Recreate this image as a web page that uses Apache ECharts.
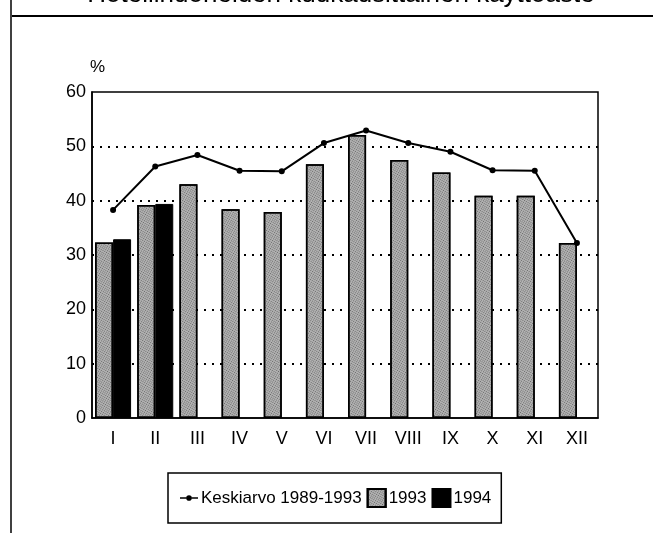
<!DOCTYPE html>
<html>
<head>
<meta charset="utf-8">
<script src="https://cdn.jsdelivr.net/npm/echarts@6/dist/echarts.min.js"></script>
<style>html,body{margin:0;padding:0;background:#fff}#c{width:653px;height:533px}</style>
</head>
<body>
<div id="c"></div>
<script>
var titleText = 'Hotellihuoneiden kuukausittainen käyttöaste';
var months = ['I','II','III','IV','V','VI','VII','VIII','IX','X','XI','XII'];
var avg8993 = [38.3, 46.3, 48.4, 45.5, 45.4, 50.6, 52.9, 50.6, 49.0, 45.6, 45.5, 32.2];
var y1993 = [32.3, 39.2, 43.0, 38.4, 37.9, 46.7, 52.1, 47.5, 45.2, 40.9, 40.9, 32.2];
var y1994 = [32.9, 39.4, null, null, null, null, null, null, null, null, null, null];
var yTicks = [0, 10, 20, 30, 40, 50, 60];
var seriesNames = ['Keskiarvo 1989-1993', '1993', '1994'];

var font = 'Liberation Sans, Arial, sans-serif';
var chart = echarts.init(document.getElementById('c'), null, {renderer: 'canvas'});
chart.setOption({
  animation: false,
  backgroundColor: '#fff',
  title: {
    text: titleText, left: 336, top: -23, textAlign: 'center',
    textStyle: {fontFamily: font, fontSize: 26, fontWeight: 'normal', color: '#000'}
  },
  graphic: [
    {type: 'line', shape: {x1: 11, y1: 0, x2: 11, y2: 533}, style: {stroke: '#000', lineWidth: 1.5}},
    {type: 'line', shape: {x1: 12, y1: 16, x2: 653, y2: 16}, style: {stroke: '#000', lineWidth: 2}}
  ],
  grid: {left: 92, right: 55, top: 92, bottom: 115, show: true, borderColor: '#000', borderWidth: 1.5, backgroundColor: 'transparent'},
  legend: {
    left: 168, top: 473,
    padding: [15, 10, 15, 12],
    borderColor: '#000', borderWidth: 1.5,
    itemWidth: 18, itemHeight: 18, itemGap: 5,
    textStyle: {fontFamily: font, fontSize: 17, color: '#000', padding: [0, 0, 0, -2]},
    data: [
      {name: seriesNames[0], icon: 'path://M0,2.5h5.5v1.5H0z M10.5,2.5h5.5v1.5h-5.5z M5.5,3.25a2.5,2.5 0 1,1 5,0a2.5,2.5 0 1,1 -5,0z'},
      {name: seriesNames[1], icon: 'rect'},
      {name: seriesNames[2], icon: 'rect'}
    ]
  },
  xAxis: {
    type: 'category', data: months,
    axisTick: {show: false},
    axisLine: {lineStyle: {color: '#000', width: 1.5}},
    axisLabel: {fontFamily: font, fontSize: 18, color: '#000', margin: 12},
    splitLine: {show: false}
  },
  yAxis: {
    type: 'value', min: yTicks[0], max: yTicks[yTicks.length - 1], interval: 10,
    name: '%', nameLocation: 'end', nameGap: 16,
    nameTextStyle: {fontFamily: font, fontSize: 17, color: '#000', align: 'left', padding: [0, 0, 0, -2]},
    axisLine: {show: true, lineStyle: {color: '#000', width: 1.5}},
    axisTick: {show: false},
    axisLabel: {fontFamily: font, fontSize: 18, color: '#000', margin: 6},
    splitLine: {show: true, showMinLine: false, showMaxLine: false, lineStyle: {color: '#000', type: [2, 6], width: 2}}
  },
  series: [
    {
      name: seriesNames[1], type: 'bar', data: y1993,
      barWidth: 18, barGap: '0%',
      itemStyle: {
        color: '#b4b4b4', borderColor: '#000', borderWidth: 1.5,
        decal: {symbol: 'rect', symbolSize: 1, color: 'rgba(40,40,40,0.55)', dashArrayX: [1, 1], dashArrayY: [1, 1], rotation: 0.5}
      }
    },
    {
      name: seriesNames[2], type: 'bar', data: y1994,
      barWidth: 18, barGap: '0%',
      itemStyle: {color: '#000', borderColor: '#000', borderWidth: 1}
    },
    {
      name: seriesNames[0], type: 'line', data: avg8993,
      symbol: 'circle', symbolSize: 6,
      lineStyle: {color: '#000', width: 2},
      itemStyle: {color: '#000'}, z: 5
    }
  ]
});
</script>
</body>
</html>
